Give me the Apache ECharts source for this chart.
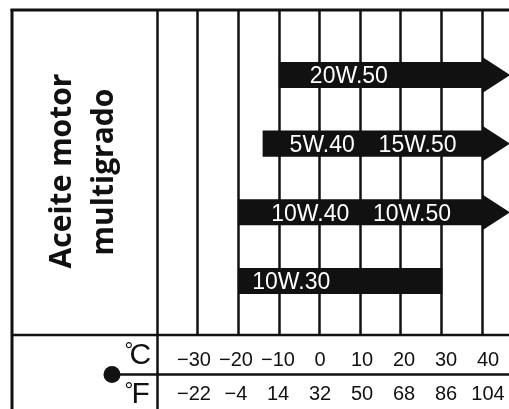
<!DOCTYPE html>
<html><head><meta charset="utf-8">
<script src="https://cdn.jsdelivr.net/npm/echarts@6/dist/echarts.min.js"></script>
<style>html,body{margin:0;padding:0;background:#fff}#c{width:509px;height:409px}</style>
</head><body><div id="c"></div>
<script>
// ---- data ----
const oilGrades = [['20W.50'], ['5W.40', '15W.50'], ['10W.40', '10W.50'], ['10W.30']];
const minTempC = [-10, -14, -20, -20];
const maxTempC = [40, 40, 40, 30];
const openEnded = [1, 1, 1, 0];
const celsiusLabels = ['\u221230', '\u221220', '\u221210', '0', '10', '20', '30', '40'];
const fahrenheitLabels = ['\u221222', '\u22124', '14', '32', '50', '68', '86', '104'];
const titleLines = ['Aceite motor', 'multigrado'];

// ---- layout / style ----
const labelPad = [31, 27, 33, 14];
const INK = '#111';
const SANS = '"Liberation Sans", Arial, sans-serif';

const barData = minTempC.map((s, i) => [s, maxTempC[i], i, openEnded[i]]);

const chart = echarts.init(document.getElementById('c'), null, {renderer: 'canvas'});

function renderBar(params, api) {
  const idx = params.dataIndex;
  const row = api.value(2);
  const p0 = api.coord([api.value(0), row]);
  const p1 = api.coord([api.value(1), row]);
  const unit = api.size([0, 1])[1];
  const h = unit * 0.38;
  const children = [{
    type: 'rect',
    shape: {x: p0[0], y: p0[1] - h / 2, width: p1[0] - p0[0] + 1, height: h},
    style: {fill: INK}
  }];
  if (api.value(3)) {
    const ah = unit * 0.53;
    children.push({
      type: 'polygon',
      shape: {points: [[p1[0], p0[1] - ah / 2], [p1[0] + 28, p0[1]], [p1[0], p0[1] + ah / 2]]},
      style: {fill: INK}
    });
  }
  children.push({
    type: 'text',
    x: p0[0] + labelPad[idx],
    y: p0[1] + 2,
    style: {
      text: oilGrades[idx].join('   \u2009'),
      fill: '#fff',
      font: '23px ' + SANS,
      align: 'left', textAlign: 'left',
      verticalAlign: 'middle', textVerticalAlign: 'middle'
    }
  });
  return {type: 'group', children};
}

function txt(x, y, text, font, rot, align) {
  return {
    type: 'text', x, y, rotation: rot || 0, silent: true,
    style: {text, font, fill: INK, align: align || 'left', textAlign: align || 'left',
            verticalAlign: 'middle', textVerticalAlign: 'middle'}
  };
}
function line(x1, y1, x2, y2, w) {
  return {type: 'line', silent: true, shape: {x1, y1, x2, y2}, style: {stroke: INK, lineWidth: w}};
}

chart.setOption({
  animation: false,
  backgroundColor: '#fff',
  grid: [
    {left: 157, right: 0, top: 10, bottom: 74},
    {left: 173, right: -1, top: 374, height: 1}
  ],
  xAxis: [
    {
      type: 'value', gridIndex: 0, min: -40, max: 46.65, interval: 10,
      axisLine: {show: false}, axisTick: {show: false}, axisLabel: {show: false},
      splitLine: {show: true, showMinLine: false, showMaxLine: false, lineStyle: {color: INK, width: 2.5}}
    },
    {
      type: 'category', gridIndex: 1, position: 'top', data: celsiusLabels,
      axisLine: {show: false}, axisTick: {show: false}, splitLine: {show: false},
      axisLabel: {margin: 14, verticalAlign: 'middle', color: INK, fontSize: 20, fontFamily: SANS, interval: 0}
    },
    {
      type: 'category', gridIndex: 1, position: 'bottom', data: fahrenheitLabels,
      axisLine: {show: false}, axisTick: {show: false}, splitLine: {show: false},
      axisLabel: {margin: 19, verticalAlign: 'middle', color: INK, fontSize: 20, fontFamily: SANS, interval: 0}
    }
  ],
  yAxis: [
    {type: 'value', gridIndex: 0, inverse: true, min: -0.947, max: 3.787, show: false},
    {type: 'value', gridIndex: 1, show: false}
  ],
  series: [{
    type: 'custom', xAxisIndex: 0, yAxisIndex: 0,
    renderItem: renderBar,
    encode: {x: [0, 1], y: 2},
    data: barData,
    z: 5
  }],
  graphic: {
    elements: [
      line(12, 9, 12, 409, 3),
      line(10.5, 10, 509, 10, 3),
      line(157.5, 10, 157.5, 409, 2.5),
      line(12, 335, 509, 335, 2.5),
      line(112, 374.5, 509, 374.5, 2.5),
      {type: 'circle', silent: true, shape: {cx: 112, cy: 374.5, r: 8.5}, style: {fill: INK}},
      txt(124.5, 351.5, '\u00b0', '22px ' + SANS),
      txt(129.5, 356, 'C', '30px ' + SANS),
      txt(124.5, 392, '\u00b0', '22px ' + SANS),
      txt(131.5, 394.5, 'F', '30px ' + SANS),
      txt(62.5, 171, titleLines[0], 'bold 30px "Open Sans", sans-serif', Math.PI / 2, 'center'),
      txt(104.5, 172, titleLines[1], 'bold 30px "Open Sans", sans-serif', Math.PI / 2, 'center')
    ]
  }
});
</script></body></html>
